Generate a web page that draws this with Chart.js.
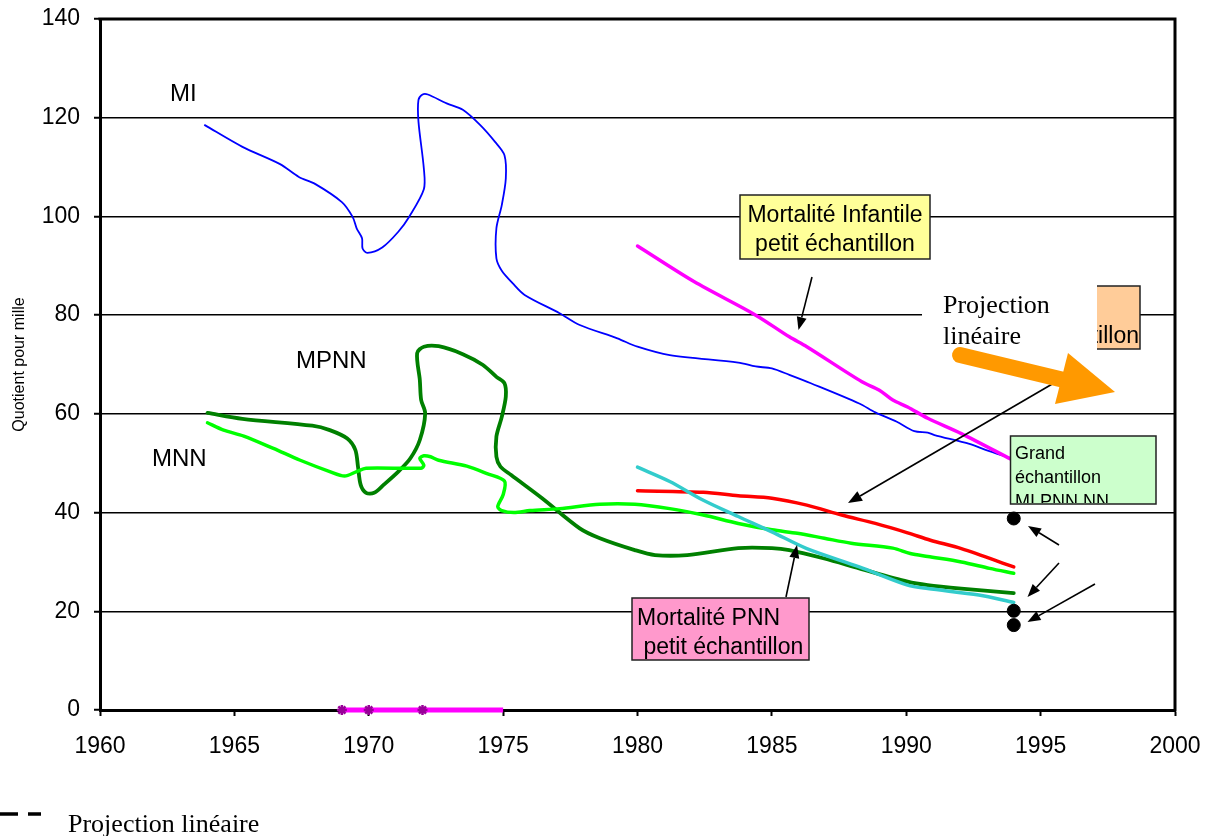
<!DOCTYPE html>
<html><head><meta charset="utf-8">
<script src="https://cdn.jsdelivr.net/npm/chart.js@4.4.0/dist/chart.umd.min.js"></script>
<style>html,body{margin:0;padding:0;background:#fff;}canvas{display:block;}</style>
</head><body>
<canvas id="c" width="1213" height="836"></canvas>
<script>
// ---- tick labels ----
const xTickLabels = ['1960','1965','1970','1975','1980','1985','1990','1995','2000'];
const yTickLabels = ['0','20','40','60','80','100','120','140'];

// ---- MI (blue, thin) ----
const miYears  = [1963.9,1965.3,1966.7,1967.4,1968.0,1969.0,1969.4,1969.55,1969.75,1969.77,1969.95,1970.5,1971.1,1971.5,1972.05,1972.05,1971.85,1971.85,1972.0,1972.2,1972.9,1973.5,1974.15,1974.7,1975.05,1975.1,1974.95,1974.75,1974.75,1974.95,1975.35,1975.8,1977.1,1977.85,1979.25,1980.0,1981.2,1983.75,1984.4,1985.0,1985.65,1986.45,1988.25,1988.85,1989.65,1990.3,1990.8,1991.05,1992.35,1992.95,1993.9];
const miValues = [118.5,114.1,110.6,108.0,106.6,102.9,99.9,97.6,95.6,93.5,92.6,93.7,96.9,99.9,105.5,109.7,119.2,123.6,124.7,124.7,122.9,121.6,118.5,115.1,112.4,107.7,102.3,97.6,91.5,89.0,86.5,84.1,80.4,78.0,75.3,73.6,71.9,70.4,69.6,69.2,67.9,66.2,62.1,60.3,58.4,56.5,56.2,55.7,53.9,52.7,51.0];

// ---- Mortalité infantile petit échantillon (magenta) ----
const miSmallYears  = [1980.0,1982.1,1984.4,1985.65,1986.3,1988.35,1989.0,1989.5,1990.05,1990.8,1992.05,1993.9];
const miSmallValues = [94.0,86.8,80.0,75.6,73.6,66.5,64.8,62.8,61.4,59.1,56.0,50.8];

// ---- MPNN (dark green) ----
const mpnnYears  = [1964.0,1965.3,1967.9,1968.55,1969.2,1969.5,1969.6,1969.7,1969.9,1970.2,1970.55,1971.1,1971.55,1971.9,1972.1,1971.95,1971.9,1971.8,1972.05,1972.6,1973.5,1974.25,1974.75,1975.05,1975.1,1974.95,1974.75,1974.75,1974.9,1975.3,1976.45,1977.85,1978.6,1979.9,1980.65,1981.85,1983.75,1985.0,1985.65,1986.95,1988.25,1990.05,1990.8,1992.05,1994.0];
const mpnnValues = [60.2,59.0,57.6,56.7,55.0,52.7,49.3,45.6,44.0,44.0,45.6,48.3,51.0,54.7,60.1,62.8,66.9,72.3,73.6,73.7,72.1,69.9,67.5,66.2,63.5,59.4,55.4,51.3,49.3,47.6,42.9,36.8,34.8,32.4,31.4,31.4,32.8,32.8,32.4,30.7,28.7,26.0,25.3,24.6,23.7];

// ---- MNN (light green) ----
const mnnYears  = [1964.0,1964.6,1965.35,1966.45,1967.45,1968.55,1969.1,1969.55,1969.9,1971.95,1972.05,1971.9,1972.05,1972.3,1972.6,1973.65,1974.4,1975.05,1975.0,1974.8,1974.95,1975.4,1976.0,1977.1,1978.6,1979.9,1981.2,1982.45,1983.75,1985.0,1985.95,1986.95,1987.95,1989.5,1990.15,1990.8,1992.05,1993.1,1994.0];
const mnnValues = [58.2,56.7,55.5,53.0,50.6,48.3,47.4,48.3,49.0,49.0,49.6,51.0,51.5,51.3,50.6,49.4,47.9,46.4,43.6,41.2,40.4,40.0,40.4,40.8,41.7,41.7,40.8,39.5,37.8,36.5,35.8,34.8,33.8,32.8,31.7,31.1,30.0,28.7,27.7];

// ---- Grand échantillon MI (red) ----
const miLargeYears  = [1980.0,1982.45,1983.75,1985.0,1986.3,1987.6,1988.85,1990.05,1990.9,1992.05,1994.0];
const miLargeValues = [44.4,44.1,43.4,42.9,41.5,39.5,37.8,35.9,34.4,32.7,29.0];

// ---- Mortalité PNN petit échantillon (cyan) ----
const pnnSmallYears  = [1980.0,1981.2,1982.45,1983.75,1985.0,1986.3,1988.25,1990.05,1990.8,1992.7,1994.0];
const pnnSmallValues = [49.2,46.3,42.5,39.2,36.1,32.7,29.0,25.3,24.6,23.3,21.8];

// ---- magenta segment on the axis with star markers ----
const axisYears  = [1969,1970,1972,1975];
const axisValues = [0,0,0,0];
const axisMarks  = [1,1,1,0];

// ---- black dots (grand échantillon 1994) ----
const dotYears  = [1994,1994,1994];
const dotValues = [38.8,20.1,17.2];

const SANS = "'Liberation Sans', Arial, sans-serif";
const SERIF = "'Liberation Serif', 'Times New Roman', serif";

function pts(xs, ys){ return xs.map((x,i)=>({x:x, y:ys[i]})); }
function curve(xs, ys, color, width, order){
  return { data: pts(xs,ys), showLine:true, borderColor:color, backgroundColor:color,
           borderWidth:width, pointRadius:0, tension:0.3, order:order,
           borderJoinStyle:'round', borderCapStyle:'round' };
}

function arrow(ctx, x1, y1, x2, y2, len, half){
  const a = Math.atan2(y2-y1, x2-x1);
  const bx = x2 - len*Math.cos(a), by = y2 - len*Math.sin(a);
  ctx.beginPath(); ctx.moveTo(x1,y1); ctx.lineTo(bx,by); ctx.stroke();
  ctx.beginPath();
  ctx.moveTo(x2,y2);
  ctx.lineTo(bx + half*Math.sin(a), by - half*Math.cos(a));
  ctx.lineTo(bx - half*Math.sin(a), by + half*Math.cos(a));
  ctx.closePath(); ctx.fill();
}

const annot = {
  id:'annot',
  afterDatasetsDraw(chart){
    const ctx = chart.ctx, a = chart.chartArea;
    ctx.save();
    // top & right frame
    ctx.strokeStyle='#000'; ctx.lineWidth=3; ctx.lineCap='square';
    ctx.beginPath(); ctx.moveTo(a.left,a.top); ctx.lineTo(a.right,a.top); ctx.lineTo(a.right,a.bottom); ctx.stroke();
    ctx.lineCap='butt';

    // yellow box
    ctx.fillStyle='#ffff99'; ctx.strokeStyle='#222'; ctx.lineWidth=1.5;
    ctx.fillRect(740,195,190,64); ctx.strokeRect(740,195,190,64);
    ctx.fillStyle='#000'; ctx.font='23px '+SANS; ctx.textAlign='center'; ctx.textBaseline='alphabetic';
    ctx.fillText('Mortalité Infantile',835,222);
    ctx.fillText('petit échantillon',835,251);

    // pink box
    ctx.fillStyle='#ff99cc'; ctx.strokeStyle='#222';
    ctx.fillRect(632,598,177,62); ctx.strokeRect(632,598,177,62);
    ctx.fillStyle='#000'; ctx.textAlign='left';
    ctx.fillText('Mortalité PNN',637,625);
    ctx.fillText(' petit échantillon',637,654);

    // orange (partly hidden) box
    ctx.fillStyle='#ffcc99'; ctx.strokeStyle='#222';
    ctx.fillRect(1030,286,110,63); ctx.strokeRect(1030,286,110,63);
    ctx.save(); ctx.beginPath(); ctx.rect(1031,287,108,61); ctx.clip();
    ctx.fillStyle='#000'; ctx.textAlign='right'; ctx.font='23px '+SANS;
    ctx.fillText('échantillon',1139,343);
    ctx.restore();
    // white text frame of "Projection linéaire"
    ctx.fillStyle='#fff'; ctx.fillRect(922,284,175,68);
    ctx.fillStyle='#000'; ctx.textAlign='left'; ctx.font='26px '+SERIF;
    ctx.fillText('Projection',943,313);
    ctx.fillText('linéaire',943,344);

    // green box
    ctx.fillStyle='#ccffcc'; ctx.strokeStyle='#222'; ctx.lineWidth=1.5;
    ctx.fillRect(1010.5,436,145.5,68); ctx.strokeRect(1010.5,436,145.5,68);
    ctx.save(); ctx.beginPath(); ctx.rect(1011.5,437,143.5,66); ctx.clip();
    ctx.fillStyle='#000'; ctx.font='18px '+SANS; ctx.textAlign='left';
    ctx.fillText('Grand',1015,459);
    ctx.fillText('échantillon',1015,483);
    ctx.fillText('MI,PNN,NN',1015,507);
    ctx.restore();

    // black arrows
    ctx.strokeStyle='#000'; ctx.fillStyle='#000'; ctx.lineWidth=1.6;
    arrow(ctx,812,277,798.5,330,13,5);
    arrow(ctx,1066,376,848,503,14,5.5);
    arrow(ctx,786,597,797,545,13,5);
    arrow(ctx,1059,545,1028,526,13,5);
    arrow(ctx,1059,563,1027.5,597,13,5);
    arrow(ctx,1095,584,1027.5,622,13,5);

    // orange big arrow
    ctx.strokeStyle='#ff9900'; ctx.fillStyle='#ff9900'; ctx.lineWidth=16; ctx.lineCap='round';
    ctx.beginPath(); ctx.moveTo(960,355); ctx.lineTo(1064,380); ctx.stroke();
    ctx.lineCap='butt';
    ctx.beginPath(); ctx.moveTo(1068,353); ctx.lineTo(1115,392); ctx.lineTo(1055,404); ctx.closePath(); ctx.fill();

    // curve labels
    ctx.fillStyle='#000'; ctx.font='24px '+SANS; ctx.textAlign='left';
    ctx.fillText('MI',170,101);
    ctx.fillText('MPNN',296,368);
    ctx.fillText('MNN',152,466);

    // legend
    ctx.strokeStyle='#000'; ctx.lineWidth=3.5;
    ctx.beginPath(); ctx.moveTo(0,814); ctx.lineTo(18,814); ctx.moveTo(28,814); ctx.lineTo(41,814); ctx.stroke();
    ctx.font='26px '+SERIF;
    ctx.fillText('Projection linéaire',68,832);
    ctx.restore();
  }
};

new Chart(document.getElementById('c'), {
  type:'scatter',
  data:{ datasets:[
    { data: pts(dotYears,dotValues), showLine:false, pointRadius:6.5, pointBackgroundColor:'#000', pointBorderColor:'#000', order:0, clip:false },
    { data: pts(axisYears,axisValues), showLine:true, borderColor:'#ff00ff', borderWidth:5, tension:0,
      pointStyle:'star', pointRadius: axisMarks.map(m=>m?5:0), pointBorderColor:'#990099', pointBorderWidth:2.5, order:0, clip:false },
    curve(pnnSmallYears, pnnSmallValues, '#33cccc', 3.5, 1),
    curve(miSmallYears, miSmallValues, '#ff00ff', 3.5, 2),
    curve(miLargeYears, miLargeValues, '#ff0000', 3.5, 3),
    curve(mnnYears, mnnValues, '#00ff00', 3.5, 4),
    curve(mpnnYears, mpnnValues, '#008000', 3.8, 5),
    curve(miYears, miValues, '#0000ff', 1.8, 6)
  ]},
  options:{
    responsive:false, animation:false, devicePixelRatio:1,
    layout:{ padding:{ left:0, top:19, right:38, bottom:76 } },
    plugins:{ legend:{display:false}, tooltip:{enabled:false} },
    scales:{
      x:{ type:'linear', min:1960, max:2000, position:'bottom',
          ticks:{ stepSize:5, autoSkip:false, maxRotation:0, color:'#000', padding:17,
                  font:{ family:SANS, size:23 }, callback:(v,i)=>xTickLabels[i] },
          grid:{ drawOnChartArea:false, drawTicks:true, tickLength:6, tickColor:'#000', tickWidth:2 },
          border:{ display:true, color:'#000', width:3 },
          afterFit:(s)=>{ s.height = 50; s.paddingLeft = 0; s.paddingRight = 0; s.paddingTop = 0; s.paddingBottom = 0; } },
      y:{ type:'linear', min:0, max:140,
          ticks:{ stepSize:20, color:'#000', padding:14, font:{ family:SANS, size:23 }, callback:(v,i)=>yTickLabels[i] },
          grid:{ color:'#000', lineWidth:1.5, drawTicks:true, tickLength:6, tickColor:'#000', tickWidth:2 },
          border:{ display:true, color:'#000', width:3 },
          title:{ display:true, text:'Quotient pour mille', color:'#000', font:{ family:SANS, size:16 }, padding:{top:10,bottom:0} },
          afterFit:(s)=>{ s.width = 100; s.paddingLeft = 0; s.paddingRight = 0; s.paddingTop = 0; s.paddingBottom = 0; } }
    }
  },
  plugins:[annot]
});
</script>
</body></html>
